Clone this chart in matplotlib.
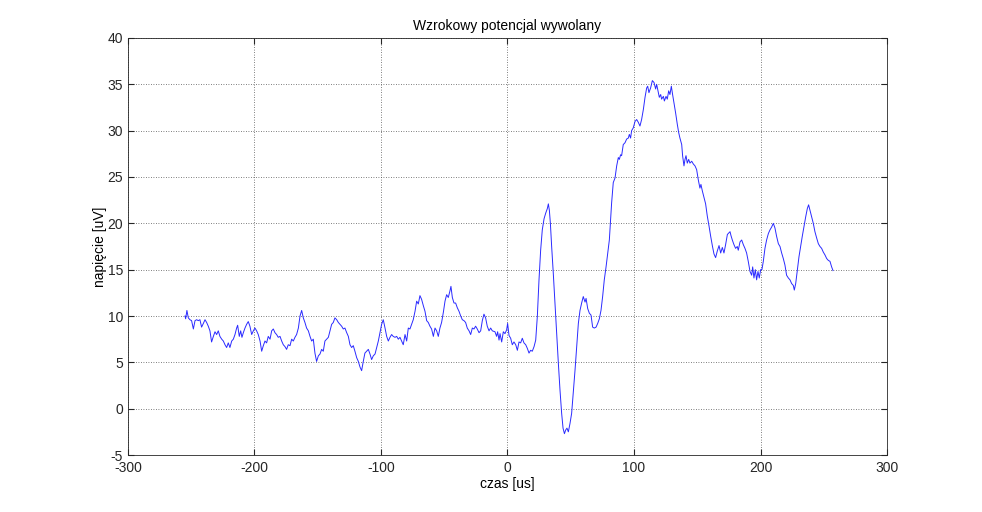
"""Visual evoked potential trace, MATLAB-style plot."""
import matplotlib
matplotlib.use("Agg")
import matplotlib.pyplot as plt
import numpy as np

plt.rcParams["font.family"] = ["Liberation Sans", "DejaVu Sans"]
plt.rcParams["axes.unicode_minus"] = False

# time [us] and voltage [uV]
czas = [
    -254.9, -254.4, -253.4, -252.3, -251.0, -249.7, -248.3, -247.0, -245.7, -244.4,
    -243.1, -241.8, -240.4, -239.1, -237.8, -236.5, -235.2, -233.9, -232.5, -231.2,
    -229.9, -228.6, -227.3, -225.9, -224.6, -223.3, -222.0, -220.7, -219.4, -218.0,
    -216.7, -215.4, -214.1, -213.3, -212.0, -210.9, -209.9, -208.8, -207.5, -206.2,
    -204.9, -203.6, -202.2, -200.9, -199.6, -198.3, -197.0, -195.6, -194.3, -193.0,
    -191.7, -190.4, -189.1, -187.7, -186.4, -185.1, -183.8, -182.5, -181.2, -179.8,
    -178.5, -177.2, -175.9, -174.6, -173.3, -171.9, -170.6, -169.3, -168.0, -166.7,
    -165.3, -164.0, -162.7, -161.4, -160.1, -158.8, -157.4, -156.1, -154.8, -153.5,
    -152.2, -150.9, -149.5, -148.2, -146.9, -145.6, -144.3, -143.0, -141.6, -140.3,
    -139.0, -137.7, -136.4, -135.0, -133.7, -132.4, -131.1, -129.8, -128.5, -127.1,
    -125.8, -124.5, -123.2, -121.9, -120.6, -119.2, -117.9, -116.6, -115.3, -114.0,
    -112.7, -111.3, -110.0, -108.7, -107.4, -106.1, -104.7, -103.4, -102.1,
    -100.8, -99.5, -98.2, -96.8, -95.5, -94.2, -92.9, -91.6, -90.3, -88.9,
    -87.6, -86.3, -85.0, -83.7, -82.4, -81.0, -79.7, -78.4, -77.1, -75.8,
    -74.5, -73.1, -71.8, -70.5, -69.2, -67.9, -66.5, -65.2, -63.9, -62.6,
    -61.3, -60.0, -58.6, -57.3, -56.0, -54.7, -53.4, -52.1, -50.7, -49.4,
    -48.1, -46.8, -45.5, -44.7, -43.6, -42.3, -41.0, -39.7, -38.3, -37.0,
    -35.7, -34.4, -33.1, -31.8, -30.4, -29.1, -27.8, -26.5, -25.2, -23.9,
    -22.5, -21.2, -19.9, -18.6, -17.3, -16.0, -14.6, -13.3, -12.0,
    -9.9, -8.6, -7.8, -6.7, -5.9, -4.6, -3.3, -2.0, -0.7, 0.1,
    1.2, 2.5, 3.8, 5.1, 6.5, 7.8, 9.1, 10.4, 11.7, 13.0,
    14.4, 15.7, 17.0, 18.3, 19.6, 21.0, 22.3, 23.6, 24.9, 26.2,
    27.5, 28.9, 30.2, 31.5, 32.3, 33.1, 33.9, 34.9, 36.2, 37.5,
    38.9, 40.2, 41.5, 42.8, 43.9, 45.0, 46.0, 47.0, 48.1, 49.4,
    50.7, 52.0, 53.4, 54.7, 56.0, 57.3, 58.6, 59.9, 61.3, 62.1,
    63.4, 64.7, 66.0, 67.3, 68.6, 70.0, 71.3, 72.6, 73.9, 75.2,
    76.5, 77.9, 79.2, 80.5,
    82.3, 83.6, 85.0, 86.3, 87.6, 88.4, 89.4, 90.2, 91.5, 92.9,
    94.2, 95.5, 96.3, 97.3, 98.1, 99.4, 100.8, 102.1, 103.4, 104.7,
    106.0, 107.4, 108.7, 110.0, 110.8, 111.8, 113.1, 114.5, 115.8, 117.1,
    117.9, 119.2, 120.0, 121.1, 121.8, 123.2, 124.0, 125.3, 126.3, 127.4,
    128.4, 129.5, 130.5, 131.6, 132.9, 134.2, 135.3, 136.3, 137.7, 138.4,
    139.5, 140.3, 141.1, 142.1, 143.2, 144.2, 145.6, 146.9, 148.2, 149.5,
    150.8, 152.1, 152.9, 154.0, 155.3, 156.6, 157.9, 159.3, 160.6, 161.9,
    163.2, 164.5, 165.8, 167.2, 168.5, 169.8, 171.1, 172.4, 173.8,
    174.5, 175.9, 176.6, 177.7, 179.0, 180.3, 181.6, 182.4, 183.8, 185.1,
    186.4, 187.7, 189.0, 190.3, 191.7, 193.0, 193.8, 194.8, 195.9, 196.9,
    198.0, 199.0, 200.1, 201.1, 202.2, 203.5, 204.8, 206.2, 207.5, 208.8,
    210.1, 211.4, 212.7, 214.1, 215.4, 216.7, 218.0, 219.3, 220.6, 222.0,
    223.3, 224.6, 225.9, 226.7, 227.8, 229.1, 230.4, 231.7, 233.0, 234.3,
    235.7, 237.0, 238.0, 239.1, 240.4, 241.7, 243.0, 244.4, 245.7, 247.0,
    248.3, 249.6, 250.9, 252.3, 253.6, 254.9, 256.2, 257.3,
]
napiecie = [
    10.0, 9.7, 10.6, 9.8, 9.6, 9.5, 8.6, 9.5, 9.6, 9.5,
    9.6, 8.8, 9.2, 9.6, 9.3, 8.9, 8.4, 7.2, 7.8, 8.3,
    8.0, 8.4, 7.8, 7.5, 7.3, 6.9, 6.6, 7.1, 6.6, 7.3,
    7.5, 8.0, 8.7, 9.0, 7.8, 8.4, 7.7, 8.2, 8.7, 9.1,
    9.4, 8.9, 8.0, 8.4, 8.7, 8.4, 8.0, 7.3, 6.2, 6.8,
    7.3, 7.1, 7.8, 7.5, 8.4, 8.6, 8.2, 8.0, 7.7, 7.8,
    7.3, 6.9, 6.7, 6.4, 6.9, 6.8, 7.5, 7.3, 7.7, 8.0,
    8.7, 10.0, 10.6, 9.8, 9.3, 8.7, 8.4, 7.8, 7.3, 7.5,
    6.0, 5.1, 5.7, 5.9, 6.4, 6.2, 7.3, 7.5, 7.7, 8.4,
    9.1, 9.3, 9.8, 9.6, 9.3, 9.1, 8.9, 8.6, 8.7, 8.2,
    7.8, 6.9, 6.6, 6.8, 6.2, 5.5, 5.1, 4.5, 4.1, 5.1,
    6.0, 6.2, 6.4, 5.9, 5.3, 5.7, 5.9, 6.6, 7.3,
    8.2, 9.1, 9.6, 8.7, 7.8, 7.3, 7.7, 8.0, 7.8, 7.7,
    7.8, 7.5, 7.7, 7.3, 6.9, 8.0, 7.3, 8.7, 8.6, 9.1,
    9.6, 10.5, 11.6, 11.3, 12.2, 11.8, 11.1, 10.5, 9.5, 9.3,
    8.9, 8.6, 7.8, 8.7, 8.4, 7.8, 8.7, 9.3, 10.4, 11.6,
    12.3, 12.0, 12.7, 13.2, 12.0, 11.4, 11.4, 10.9, 10.5, 10.0,
    9.6, 9.5, 9.3, 8.7, 8.4, 8.0, 8.7, 8.6, 8.9, 8.6,
    8.2, 8.4, 9.5, 10.2, 9.8, 8.9, 8.4, 8.7, 8.4,
    8.3, 7.8, 8.3, 7.4, 8.1, 7.2, 8.3, 8.1, 8.5, 9.2,
    7.9, 7.6, 6.9, 7.2, 6.9, 6.3, 7.2, 7.1, 7.6, 7.1,
    6.9, 6.5, 6.0, 6.3, 6.2, 6.7, 7.4, 10.0, 13.9, 17.1,
    19.3, 20.5, 21.1, 21.6, 22.1, 21.4, 20.0, 17.5, 14.6, 11.4,
    8.1, 4.9, 2.0, -0.5, -2.1, -2.7, -2.3, -2.1, -2.5, -1.6,
    -0.5, 1.7, 4.2, 6.7, 9.2, 10.6, 11.4, 12.1, 11.5, 11.9,
    10.8, 10.3, 10.1, 8.8, 8.7, 8.8, 9.2, 9.7, 10.6, 12.1,
    13.9, 15.3, 16.8, 18.2,
    22.2, 24.4, 24.9, 26.2, 27.1, 26.9, 27.4, 27.3, 28.5, 28.7,
    29.1, 29.2, 29.6, 29.2, 30.0, 30.3, 31.0, 31.2, 30.9, 30.5,
    31.2, 32.3, 33.6, 34.6, 34.8, 34.1, 34.6, 35.4, 35.2, 34.5,
    35.0, 34.1, 33.6, 33.9, 33.4, 33.7, 33.2, 33.7, 33.4, 34.3,
    33.9, 34.8, 33.9, 33.0, 31.9, 30.7, 29.8, 29.2, 28.5, 27.3,
    26.2, 26.9, 27.3, 26.5, 26.9, 26.5, 26.7, 26.4, 26.2, 25.8,
    24.7, 23.8, 24.2, 23.5, 22.8, 22.1, 20.8, 19.7, 18.6, 17.6,
    16.7, 16.3, 17.0, 17.6, 16.8, 17.4, 16.8, 17.7, 18.8,
    18.9, 19.1, 18.7, 18.2, 17.7, 17.3, 17.5, 17.1, 18.0, 18.2,
    17.7, 17.3, 16.8, 15.9, 14.8, 14.4, 15.3, 14.1, 15.0, 13.9,
    14.8, 14.1, 15.0, 15.0, 15.9, 17.3, 18.2, 18.9, 19.3, 19.6,
    20.0, 19.5, 18.6, 17.8, 17.5, 16.8, 16.2, 15.5, 14.4, 14.1,
    13.9, 13.5, 13.3, 12.8, 13.5, 15.0, 16.4, 17.5, 18.6, 19.6,
    20.7, 21.6, 22.0, 21.4, 20.7, 20.0, 19.1, 18.4, 17.8, 17.5,
    17.3, 16.9, 16.6, 16.2, 16.0, 15.9, 15.3, 14.9,
]

x_ticks = [-300, -200, -100, 0, 100, 200, 300]
y_ticks = [-5, 0, 5, 10, 15, 20, 25, 30, 35, 40]

fig = plt.figure(figsize=(9.82, 5.12), dpi=100)
ax = fig.add_axes([0.1303, 0.1113, 0.7730, 0.8145])
ax.plot(czas, napiecie, color="#2a2aff", linewidth=0.7)

ax.set_xlim(-300, 300)
ax.set_ylim(-5, 40)
ax.set_xticks(x_ticks)
ax.set_yticks(y_ticks)
ax.tick_params(direction="in", length=4, labelsize=10, colors="#262626")
ax.tick_params(axis="x", pad=4)
ax.tick_params(top=True, right=True, labeltop=False, labelright=False)
ax.grid(True, linestyle=(0, (1, 2)), color="#555555", linewidth=0.6)
for sp in ax.spines.values():
    sp.set_color("#262626")
    sp.set_linewidth(0.6)

ax.set_title("Wzrokowy potencjal wywolany", fontsize=10, pad=6)
ax.set_xlabel("czas [us]", fontsize=10, labelpad=2)
ax.set_ylabel("napięcie [uV]", fontsize=10, labelpad=0)

fig.savefig("out.png", dpi=100, facecolor="white")
